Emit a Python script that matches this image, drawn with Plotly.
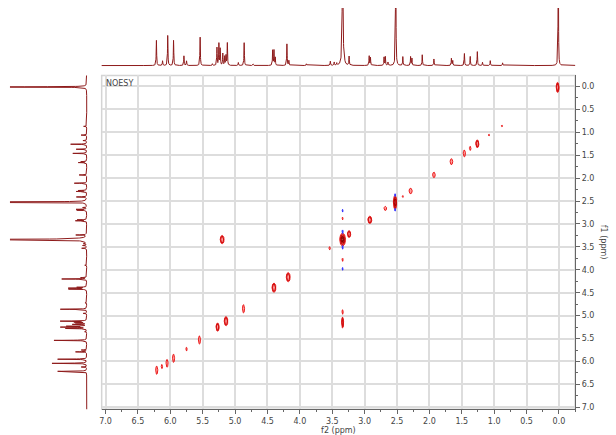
import numpy as np
import plotly.graph_objects as go

W, H = 616, 435

# ---------------- 1D proton spectrum (peak list) ----------------
peak_ppm = [6.215, 6.12, 6.04, 5.95, 5.79, 5.75, 5.54, 5.35, 5.28, 5.25, 5.23, 5.19,
            5.16, 5.14, 5.12, 4.95, 4.86, 4.72, 4.42, 4.40, 4.38, 4.20, 4.17, 3.90,
            3.53, 3.47, 3.43, 3.34, 3.31, 3.24, 2.93, 2.91, 2.70, 2.68, 2.64, 2.52,
            2.41, 2.29, 2.27, 2.11, 1.93, 1.66, 1.64, 1.46, 1.37, 1.26, 1.18, 1.06,
            0.87, 0.01]
peak_height = [25.7, 4.7, 30.7, 25.7, 9.7, 4.7, 29.0, 1.7, 18.0, 22.0, 17.0, 12.0,
               9.0, 10.0, 23.0, 3.0, 23.0, 1.5, 15.5, 15.5, 8.0, 21.7, 5.0, 1.7,
               4.3, 3.3, 2.3, 150.0, 3.3, 9.0, 9.7, 8.0, 8.3, 9.0, 3.3, 150.0,
               9.0, 9.0, 7.3, 11.0, 6.7, 7.3, 5.0, 12.3, 9.3, 14.0, 3.3, 5.0,
               2.7, 150.0]
peak_hwhm = [0.004] * len(peak_ppm)
peak_hwhm[27] = 0.006   # water signal, a little broader
peak_hwhm[35] = 0.0035
peak_hwhm[49] = 0.003

# ---------------- 2D NOESY cross peaks (positive) ----------------
cp_f2 = [0.02, 6.21, 6.13, 6.05, 5.95, 5.75, 5.55, 5.27, 5.14, 4.87, 4.40, 4.18,
         3.54, 3.34, 3.24, 2.92, 2.68, 2.53, 2.41, 2.29, 1.93, 1.66, 1.46, 1.37,
         1.26, 1.08, 0.88, 5.20, 3.34, 3.34, 3.34, 3.34]
cp_f1 = [0.02, 6.19, 6.11, 6.04, 5.93, 5.73, 5.53, 5.25, 5.12, 4.85, 4.39, 4.16,
         3.53, 3.34, 3.22, 2.91, 2.66, 2.53, 2.40, 2.28, 1.93, 1.64, 1.46, 1.35,
         1.25, 1.06, 0.86, 3.34, 5.15, 4.92, 2.88, 3.78]
cp_sx = [0.022, 0.016, 0.010, 0.016, 0.016, 0.009, 0.016, 0.024, 0.028, 0.016, 0.030, 0.030,
         0.011, 0.045, 0.025, 0.030, 0.020, 0.026, 0.008, 0.024, 0.020, 0.020, 0.017, 0.012,
         0.024, 0.008, 0.008, 0.030, 0.015, 0.009, 0.006, 0.008]
cp_sy = [0.11, 0.09, 0.045, 0.085, 0.09, 0.04, 0.09, 0.09, 0.10, 0.09, 0.10, 0.10,
         0.035, 0.14, 0.075, 0.08, 0.045, 0.15, 0.02, 0.06, 0.06, 0.065, 0.075, 0.045,
         0.085, 0.02, 0.02, 0.09, 0.12, 0.05, 0.03, 0.035]
cp_levels = [2, 1, 1, 1, 1, 1, 1, 2, 2, 1, 2, 2,
             1, 4, 2, 2, 1, 3, 1, 1, 1, 1, 1, 1,
             2, 1, 1, 2, 2, 1, 1, 1]

# negative contours
neg_f2 = [3.34, 3.34, 3.34, 3.34, 2.53, 2.53]
neg_f1 = [2.71, 3.17, 3.51, 3.98, 2.37, 2.69]
neg_sx = [0.006, 0.008, 0.008, 0.006, 0.007, 0.007]
neg_sy = [0.03, 0.04, 0.04, 0.03, 0.03, 0.03]

x_ticks = [7.0, 6.5, 6.0, 5.5, 5.0, 4.5, 4.0, 3.5, 3.0, 2.5, 2.0, 1.5, 1.0, 0.5, 0.0]

X_RANGE = [7.06, -0.25]
Y_RANGE = [7.04, -0.24]

# ---------------- build figure ----------------
ppm = np.arange(-0.3, 7.1, 0.0015)
spec = np.zeros_like(ppm)
for p, h, g in zip(peak_ppm, peak_height, peak_hwhm):
    spec += h * g * g / ((ppm - p) ** 2 + g * g)

fig = go.Figure()

spec_color = "#8e1b1b"
fig.add_trace(go.Scatter(x=ppm, y=spec, mode="lines", xaxis="x2", yaxis="y2",
                         line=dict(color=spec_color, width=1), hoverinfo="skip"))
fig.add_trace(go.Scatter(x=spec * 1.15, y=ppm, mode="lines", xaxis="x3", yaxis="y3",
                         line=dict(color=spec_color, width=1), hoverinfo="skip"))

theta = np.linspace(0, 2 * np.pi, 41)


def rings(cx, cy, sx, sy, scale):
    xs, ys = [], []
    for a, b, c, d in zip(cx, cy, sx, sy):
        xs += list(a + c * scale * np.cos(theta)) + [None]
        ys += list(b + d * scale * np.sin(theta)) + [None]
    return xs, ys


# lowest contour level: filled, bright red
xs, ys = rings(cp_f2, cp_f1, cp_sx, cp_sy, 1.0)
fig.add_trace(go.Scatter(x=xs, y=ys, mode="lines", fill="toself",
                         fillcolor="rgba(255,90,90,0.6)",
                         line=dict(color="#ec1c1c", width=1), hoverinfo="skip"))

# higher contour levels
level_colors = ["#d01010", "#a80000", "#850000"]
for lvl in range(1, 4):
    idx = [i for i, n in enumerate(cp_levels) if n > lvl]
    if not idx:
        continue
    s = 1.0 - lvl / (max(cp_levels[i] for i in idx) + 0.3)
    xs, ys = rings([cp_f2[i] for i in idx], [cp_f1[i] for i in idx],
                   [cp_sx[i] for i in idx], [cp_sy[i] for i in idx], s)
    fig.add_trace(go.Scatter(x=xs, y=ys, mode="lines",
                             line=dict(color=level_colors[lvl - 1], width=1.1),
                             hoverinfo="skip"))

xs, ys = rings(neg_f2, neg_f1, neg_sx, neg_sy, 1.0)
fig.add_trace(go.Scatter(x=xs, y=ys, mode="lines", fill="toself",
                         fillcolor="rgba(60,60,255,0.8)",
                         line=dict(color="#3030ff", width=1), hoverinfo="skip"))

font = dict(family="DejaVu Sans, Verdana, sans-serif", size=8, color="#444444")

x0, x1 = 100 / W, 575 / W
y0, y1 = (H - 412) / H, (H - 76) / H

fig.update_layout(
    width=W, height=H, margin=dict(l=0, r=0, t=0, b=0),
    paper_bgcolor="white", plot_bgcolor="white", showlegend=False,
    font=font,
    xaxis=dict(domain=[x0, x1], range=X_RANGE, anchor="y",
               tickvals=x_ticks, tickformat=".1f", ticks="outside", ticklen=4,
               tickcolor="#666", tickwidth=1,
               minor=dict(dtick=0.25, tick0=0, ticks="outside", ticklen=2,
                          tickcolor="#666", showgrid=False),
               showgrid=True, gridcolor="#dddddd", gridwidth=1.5, zeroline=False,
               showline=True, linecolor="#666", linewidth=1,
               title=dict(text="f2 (ppm)", font=font, standoff=0)),
    yaxis=dict(domain=[y0, y1], range=Y_RANGE, anchor="x", side="right",
               tickvals=x_ticks, tickformat=".1f", ticks="outside", ticklen=4,
               tickcolor="#666", tickwidth=1,
               minor=dict(dtick=0.25, tick0=0, ticks="outside", ticklen=2,
                          tickcolor="#666", showgrid=False),
               showgrid=True, gridcolor="#dddddd", gridwidth=1.5, zeroline=False,
               showline=True, linecolor="#666", linewidth=1),
    xaxis2=dict(domain=[x0, x1], range=X_RANGE, anchor="y2", visible=False),
    yaxis2=dict(domain=[(H - 68) / H, (H - 8) / H], range=[-2, 58], anchor="x2",
                visible=False),
    xaxis3=dict(domain=[8 / W, 88 / W], range=[77, -3], anchor="y3", visible=False),
    yaxis3=dict(domain=[y0, y1], range=Y_RANGE, anchor="x3", visible=False),
)

fig.add_shape(type="rect", xref="paper", yref="paper", x0=x0, x1=x1, y0=y0, y1=y1,
              line=dict(color="#d4d4d4", width=1.5), layer="below")

fig.add_annotation(text="NOESY", xref="paper", yref="paper", x=x0 + 2 / W, y=y1 - 2 / H,
                   xanchor="left", yanchor="top", showarrow=False, font=font)
fig.add_annotation(text="f1 (ppm)", xref="paper", yref="paper", x=610 / W,
                   y=(y0 + y1) / 2, textangle=90, showarrow=False, font=font)

fig.write_html("out.html")
